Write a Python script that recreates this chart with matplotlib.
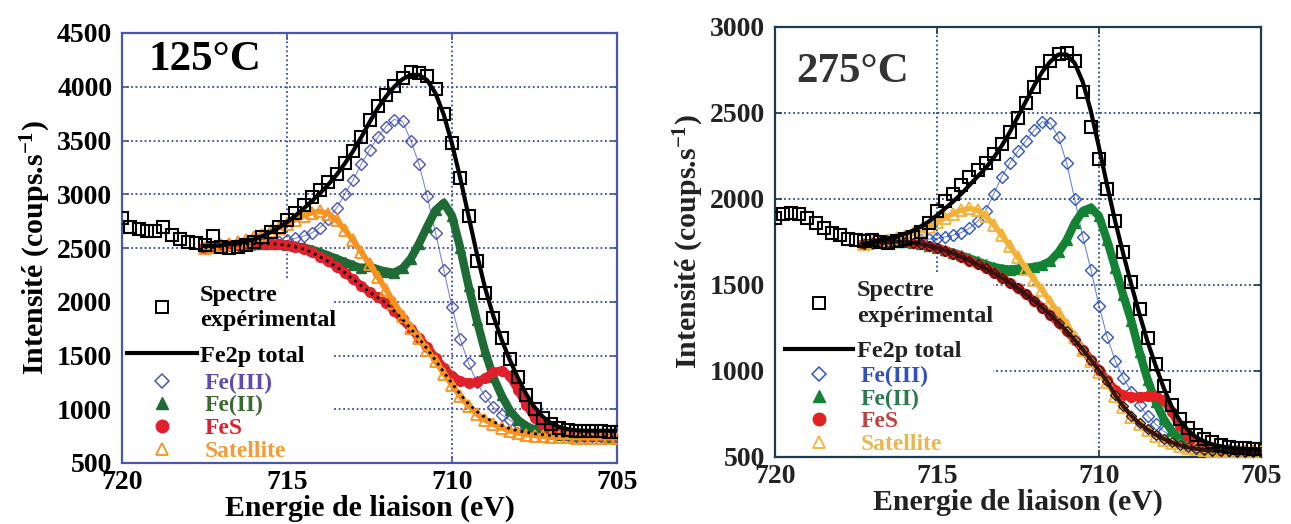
import numpy as np
import matplotlib
matplotlib.use("Agg")
import matplotlib.pyplot as plt
from matplotlib.lines import Line2D
from matplotlib.patches import Rectangle

plt.rcParams['font.family'] = ['Liberation Serif', 'DejaVu Serif']
plt.rcParams['font.weight'] = 'bold'
plt.rcParams['mathtext.fontset'] = 'custom'
plt.rcParams['mathtext.rm'] = 'Liberation Serif:bold'
plt.rcParams['mathtext.it'] = 'Liberation Serif:bold'

# ---- 125 °C ----------------------------------------------------------
# energie de liaison des points (pas de 0.25 eV)
e_exp_125 = np.linspace(720.0, 705.0, 61)
e_fit_125 = np.linspace(717.5, 705.0, 51)

exp_125 = [2780, 2700, 2680, 2660, 2660, 2700, 2620, 2580, 2560, 2550,
           2530, 2610, 2510, 2500, 2510, 2530, 2560, 2600, 2650, 2700,
           2760, 2830, 2900, 2970, 3040, 3110, 3190, 3290, 3400, 3530,
           3690, 3820, 3920, 4010, 4080, 4140, 4130, 4100, 3980, 3750,
           3480, 3150, 2800, 2380, 2080, 1850, 1660, 1470, 1300, 1130,
           1000, 920, 860, 830, 810, 800, 800, 795, 795, 790,
           790]
total_125 = [2520, 2520, 2525, 2535, 2545, 2560, 2580, 2610, 2645, 2690,
             2740, 2800, 2865, 2935, 3010, 3090, 3180, 3285, 3400, 3530,
             3670, 3800, 3910, 4000, 4070, 4110, 4110, 4060, 3940, 3740,
             3470, 3150, 2800, 2450, 2130, 1870, 1650, 1460, 1290, 1140,
             1020, 930, 870, 835, 815, 805, 800, 800, 800, 800,
             800]
fe3_125 = [2500, 2505, 2515, 2525, 2530, 2535, 2540, 2545, 2550, 2560,
           2570, 2590, 2610, 2640, 2690, 2770, 2870, 3000, 3130, 3280,
           3410, 3530, 3630, 3695, 3680, 3500, 3280, 2980, 2640, 2300,
           1950, 1650, 1430, 1250, 1120, 1020, 950, 900, 860, 830,
           805, 790, 778, 768, 760, 755, 752, 750, 748, 747,
           746]
fe2_125 = [2500, 2505, 2515, 2525, 2530, 2535, 2540, 2540, 2540, 2535,
           2530, 2520, 2505, 2485, 2460, 2430, 2400, 2370, 2340, 2310,
           2330, 2300, 2280, 2270, 2310, 2400, 2540, 2700, 2850, 2920,
           2800, 2500, 2150, 1830, 1540, 1300, 1130, 990, 900, 845,
           810, 790, 775, 765, 758, 753, 750, 748, 747, 746,
           745]
fes_125 = [2500, 2505, 2515, 2525, 2530, 2535, 2540, 2540, 2540, 2535,
           2525, 2510, 2490, 2460, 2420, 2375, 2325, 2270, 2210, 2150,
           2090, 2040, 1990, 1915, 1835, 1750, 1665, 1575, 1480, 1385,
           1310, 1265, 1245, 1250, 1290, 1345, 1360, 1310, 1180, 1040,
           920, 850, 810, 790, 775, 768, 763, 760, 758, 757,
           756]
sat_125 = [2500, 2510, 2525, 2540, 2555, 2575, 2600, 2625, 2655, 2690,
           2725, 2765, 2800, 2830, 2840, 2820, 2760, 2670, 2570, 2460,
           2350, 2230, 2110, 1990, 1870, 1760, 1660, 1555, 1445, 1330,
           1225, 1120, 1030, 955, 900, 860, 825, 800, 780, 765,
           755, 748, 743, 740, 738, 737, 736, 735, 735, 735,
           735]
fond_125 = [2500, 2505, 2515, 2525, 2530, 2535, 2540, 2540, 2540, 2535,
            2525, 2510, 2490, 2460, 2420, 2375, 2325, 2270, 2210, 2150,
            2090, 2040, 1990, 1915, 1835, 1750, 1660, 1560, 1455, 1345,
            1240, 1140, 1050, 980, 925, 885, 850, 820, 800, 785,
            772, 763, 757, 752, 749, 747, 746, 745, 745, 745,
            745]

# ---- 275 °C ----------------------------------------------------------
e_exp_275 = np.linspace(720.0, 705.0, 61)
e_fit_275 = np.linspace(717.25, 705.0, 50)

exp_275 = [1890, 1910, 1920, 1910, 1890, 1860, 1830, 1800, 1790, 1770,
           1760, 1755, 1760, 1750, 1745, 1755, 1765, 1780, 1810, 1860,
           1930, 1990, 2030, 2080, 2130, 2170, 2210, 2260, 2320, 2390,
           2470, 2560, 2650, 2730, 2800, 2845, 2850, 2800, 2620, 2420,
           2230, 2060, 1870, 1690, 1520, 1360, 1190, 1040, 910, 800,
           720, 670, 630, 605, 585, 570, 560, 555, 550, 545,
           545]
total_275 = [1740, 1750, 1760, 1770, 1782, 1797, 1815, 1840, 1870, 1905,
             1945, 1985, 2030, 2080, 2130, 2180, 2240, 2310, 2390, 2480,
             2570, 2660, 2740, 2800, 2840, 2840, 2790, 2680, 2510, 2300,
             2080, 1870, 1680, 1500, 1330, 1170, 1030, 900, 790, 710,
             655, 615, 590, 573, 562, 555, 550, 547, 545, 544]
fe3_275 = [1740, 1745, 1750, 1753, 1755, 1757, 1760, 1763, 1767, 1772,
           1780, 1790, 1805, 1830, 1870, 1930, 2030, 2130, 2210, 2280,
           2340, 2400, 2450, 2440, 2360, 2210, 2000, 1780, 1590, 1380,
           1200, 1060, 960, 880, 800, 740, 690, 650, 620, 595,
           578, 565, 555, 548, 543, 540, 537, 535, 534, 533]
fe2_275 = [1740, 1745, 1750, 1752, 1752, 1750, 1745, 1738, 1728, 1716,
           1702, 1688, 1672, 1655, 1638, 1620, 1605, 1595, 1590, 1595,
           1600, 1605, 1615, 1640, 1690, 1760, 1860, 1930, 1950, 1900,
           1760, 1600, 1440, 1290, 1110, 950, 820, 720, 650, 605,
           578, 562, 552, 545, 540, 537, 535, 533, 532, 531]
fes_275 = [1740, 1745, 1750, 1752, 1752, 1750, 1745, 1738, 1728, 1715,
           1700, 1683, 1663, 1642, 1620, 1596, 1570, 1542, 1512, 1480,
           1445, 1408, 1368, 1325, 1280, 1232, 1180, 1125, 1065, 1005,
           945, 890, 860, 850, 850, 855, 855, 830, 760, 680,
           620, 585, 565, 553, 545, 540, 537, 535, 533, 532]
sat_275 = [1740, 1748, 1756, 1764, 1774, 1786, 1800, 1818, 1840, 1865,
           1890, 1915, 1935, 1945, 1935, 1900, 1850, 1790, 1725, 1660,
           1595, 1530, 1470, 1400, 1340, 1270, 1200, 1120, 1060, 995,
           935, 855, 790, 735, 690, 655, 625, 600, 580, 565,
           553, 545, 539, 535, 532, 530, 529, 528, 528, 528]
fond_275 = [1740, 1745, 1750, 1752, 1752, 1750, 1745, 1738, 1728, 1715,
            1700, 1683, 1663, 1642, 1620, 1596, 1570, 1542, 1512, 1480,
            1445, 1408, 1368, 1325, 1280, 1232, 1180, 1125, 1065, 1003,
            940, 860, 795, 740, 695, 660, 630, 605, 585, 568,
            556, 547, 541, 537, 534, 532, 531, 530, 530, 530]

labels = ['Spectre\nexpérimental', 'Fe2p total', 'Fe(III)', 'Fe(II)', 'FeS', 'Satellite']

panels = [
    dict(title='125°C', title_xy=(0.167, 0.937), title_col='black',
         e_exp=e_exp_125, e_fit=e_fit_125, exp=exp_125, total=total_125,
         fe3=fe3_125, fe2=fe2_125, fes=fes_125, sat=sat_125, fond=fond_125,
         ylim=(500, 4500), yticks=np.arange(500, 4501, 500),
         spine='#4a56ac', grid='#3a48a8', txt='black',
         c_fe3='#4a55b5', c_fe2='#1f6b35', c_fes='#e0202a', c_sat='#f7931e',
         t_fe3='#5a4cb0', t_fe2='#3a6a30', t_fes='#e02030', t_sat='#f59a35',
         box=(0.426, 0.43), legA=(0.010, 0.415), legB=(0.010, 0.211),
         hlA=2.88, padA=0.12, hlB=2.97, padB=0.34),
    dict(title='275°C', title_xy=(0.160, 0.895), title_col='#333333',
         e_exp=e_exp_275, e_fit=e_fit_275, exp=exp_275, total=total_275,
         fe3=fe3_275, fe2=fe2_275, fes=fes_275, sat=sat_275, fond=fond_275,
         ylim=(500, 3000), yticks=np.arange(500, 3001, 500),
         spine='#1d3a50', grid='#2a4a85', txt='#222222',
         c_fe3='#2f55c0', c_fe2='#148235', c_fes='#e52020', c_sat='#f2b23a',
         t_fe3='#3050c0', t_fe2='#2a7a50', t_fes='#c04040', t_sat='#e8b850',
         box=(0.449, 0.43), legA=(0.021, 0.412), legB=(0.021, 0.213),
         hlA=2.8, padA=0.16, hlB=2.88, padB=0.3),
]

fig = plt.figure(figsize=(12.91, 5.24), dpi=100)
axes = [fig.add_axes([122 / 1291, 1 - 463 / 524, 495 / 1291, 430 / 524]),
        fig.add_axes([775 / 1291, 1 - 457 / 524, 486 / 1291, 430 / 524])]

for ax, p in zip(axes, panels):
    ax.set_xlim(720, 705)
    ax.set_ylim(*p['ylim'])
    ax.set_xticks([720, 715, 710, 705])
    ax.set_yticks(p['yticks'])
    ax.set_axisbelow(True)
    ax.grid(True, linestyle=(0, (1, 1.5)), color=p['grid'], lw=1.3)
    for s in ax.spines.values():
        s.set_color(p['spine'])
        s.set_linewidth(1.6)
    ax.tick_params(direction='in', length=5, width=1.2, color=p['spine'],
                   labelsize=20, labelcolor=p['txt'], top=True, right=True)
    ax.tick_params(axis='y', pad=7)
    ax.tick_params(axis='x', pad=5)
    for t in ax.get_xticklabels() + ax.get_yticklabels():
        t.set_fontweight('bold')

    # zone blanche sous la legende
    ax.add_patch(Rectangle((0, 0), p['box'][0], p['box'][1], transform=ax.transAxes,
                           facecolor='white', edgecolor='none', zorder=1))

    e = p['e_fit']
    ax.plot(e, p['fe3'], '-', color=p['c_fe3'], lw=0.8, alpha=0.7, zorder=2)
    ax.plot(e, p['fe3'], 'D', ms=6, mfc='none', mec=p['c_fe3'], mew=1.0, zorder=2)
    ax.plot(e, p['fe2'], '-', color=p['c_fe2'], lw=6, zorder=2.2)
    ax.plot(e, p['fe2'], '^', ms=7.5, color=p['c_fe2'], zorder=2.2)
    ax.plot(e, p['fes'], '-', color=p['c_fes'], lw=6, zorder=2.4)
    ax.plot(e, p['fes'], 'o', ms=7, color=p['c_fes'], zorder=2.4)
    ax.plot(e, p['sat'], '-', color=p['c_sat'], lw=4, zorder=2.6)
    ax.plot(e, p['sat'], '^', ms=8, mfc='none', mec=p['c_sat'], mew=1.3, zorder=2.6)
    if p['title'] == '125°C':
        ax.plot(e, p['fond'], linestyle=(0, (1, 1.5)), color='black', lw=2, zorder=2.8)
    else:
        ax.plot(e, p['fond'], '-', color='#3a1510', lw=3, zorder=2.8)
        ax.plot(e, p['fond'], 'D', ms=5, mfc='none', mec='#2a1010', mew=0.9, zorder=2.8)
    ax.plot(p['e_exp'], p['exp'], 's', ms=8, mfc='none', mec='black', mew=1.5, zorder=3)
    ax.plot(e, p['total'], '-', color='black', lw=3, zorder=3.2)

    ax.text(*p['title_xy'], p['title'], transform=ax.transAxes, fontsize=31,
            fontweight='bold', color=p['title_col'], ha='center', va='center')
    ax.set_xlabel('Energie de liaison (eV)', fontsize=21.5, fontweight='bold',
                  color=p['txt'], labelpad=0)
    ax.set_ylabel('Intensité (coups.s$^{-1}$)', fontsize=21.5, fontweight='bold',
                  color=p['txt'], labelpad=3)

    hA = [Line2D([], [], ls='none', marker='s', ms=9, mfc='none', mec='black', mew=1.4),
          Line2D([], [], color='black', lw=3)]
    legA = ax.legend(hA, labels[:2], loc='upper left', bbox_to_anchor=p['legA'],
                     frameon=False, fontsize=17.5, borderpad=0, borderaxespad=0,
                     handlelength=p['hlA'], handletextpad=p['padA'], labelspacing=0.55,
                     numpoints=1)
    legA.get_texts()[0].set_linespacing(1.3)
    ax.add_artist(legA)
    hB = [Line2D([], [], ls='none', marker='D', ms=7, mfc='none', mec=p['c_fe3'], mew=1.1),
          Line2D([], [], ls='none', marker='^', ms=9, color=p['c_fe2']),
          Line2D([], [], ls='none', marker='o', ms=9, color=p['c_fes']),
          Line2D([], [], ls='none', marker='^', ms=9, mfc='none', mec=p['c_sat'], mew=1.3)]
    legB = ax.legend(hB, labels[2:], loc='upper left', bbox_to_anchor=p['legB'],
                     frameon=False, fontsize=17, borderpad=0, borderaxespad=0,
                     handlelength=p['hlB'], handletextpad=p['padB'], labelspacing=0.05,
                     numpoints=1)
    for t, c in zip(legB.get_texts(), [p['t_fe3'], p['t_fe2'], p['t_fes'], p['t_sat']]):
        t.set_color(c)
    for t in legA.get_texts():
        t.set_color(p['txt'])

fig.savefig('out.png', dpi=100)
